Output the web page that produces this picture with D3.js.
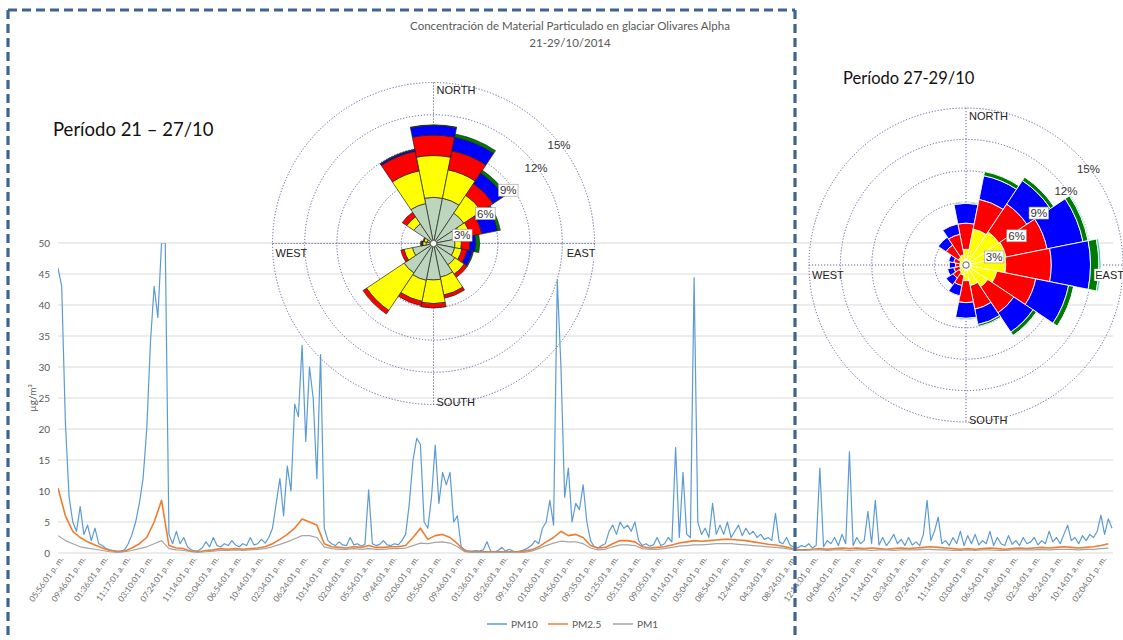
<!DOCTYPE html>
<html><head><meta charset="utf-8">
<script src="https://cdn.jsdelivr.net/npm/d3@7"></script>
<style>body{margin:0;background:#fff}svg{display:block}</style>
</head><body><svg id="c" width="1123" height="640"></svg>
<script>
const tickLabels = ["05:56:01 p. m.","09:46:01 p. m.","01:36:01 a. m.","11:17:01 a. m.","03:10:01 p. m.","07:24:01 p. m.","11:14:01 p. m.","03:04:01 a. m.","06:54:01 a. m.","10:44:01 a. m.","02:34:01 p. m.","06:24:01 p. m.","10:14:01 p. m.","02:04:01 a. m.","05:54:01 a. m.","09:44:01 a. m.","02:06:01 p. m.","05:56:01 p. m.","09:46:01 p. m.","01:36:01 a. m.","05:26:01 a. m.","09:16:01 a. m.","01:06:01 p. m.","04:56:01 p. m.","09:35:01 p. m.","01:25:01 a. m.","05:15:01 a. m.","09:05:01 a. m.","01:14:01 p. m.","05:04:01 p. m.","08:54:01 p. m.","12:44:01 a. m.","04:34:01 a. m.","08:24:01 a. m.","12:14:01 p. m.","04:04:01 p. m.","07:54:01 p. m.","11:44:01 p. m.","03:34:01 a. m.","07:24:01 a. m.","11:14:01 a. m.","03:04:01 p. m.","06:54:01 p. m.","10:44:01 p. m.","02:34:01 a. m.","06:24:01 a. m.","10:14:01 a. m.","02:04:01 p. m."];
const pointsPerLabel = 6;
const yTicks = [0,5,10,15,20,25,30,35,40,45,50];

const pm10 = [46,43,21,9,5,3.5,7.5,3,4.5,2,4,1.5,1.2,0.7,0.5,0.4,0.3,0.3,0.5,1.5,
3,5,8,12,20,34,43,38,50,50,3,1.5,3.5,1.5,2.5,1,0.5,0.3,0.4,0.8,
1.8,1,2.5,1.2,1,1.5,1.2,2,1.3,1,1.5,1.2,2.5,1.3,1.5,2.2,1.6,2.5,4,8,
12,6,14,10,24,22,33.5,18,30,25,12,32,4,2,1.5,1.2,1.8,1.3,1.2,2.5,
1.3,1.5,1.1,1.4,10.2,1.5,1.2,1.4,2,1.3,1.2,1.5,1.3,2,3,8,15,18.5,17.5,5,
4,9,17.4,8,13,11,13,5,6,1,0.5,0.3,0.3,0.4,0.3,0.5,1.8,0.3,0.2,0.4,
0.9,0.3,0.6,0.3,0.2,0.3,0.5,0.8,1.2,2,1.5,4,5,8.5,4.5,44,30,9,13.7,5,
8,7,11,5,2,1,0.8,1.2,1.5,3.5,4.5,3,5,4,4.5,3.5,5,2,1.2,1.5,
1.1,1.3,2.5,1.2,1.5,2.5,1.8,17,2.5,13,3,2.5,44.4,5,3,4,2.5,8,3,4.5,
3,5,2.5,3.5,4.5,2.8,4,3,3.5,2.5,3,2.2,2.5,2,6.4,1.8,1.5,2.5,1.2,1,
0.8,1.2,1,1.5,0.8,1.2,13.7,1,2,1.5,2.5,1.2,3,1.5,16.3,1.2,2.5,1.5,2,6.7,
1.5,8.5,1.3,2.5,1.2,2,3,1.5,2.2,1.2,2.5,1.3,1.8,1.2,3,8.5,2,3.5,5.8,1.5,
2,1.2,2.5,1.5,3.5,1.2,2.8,1.5,3,1.3,2,1.5,3.5,1.2,2.5,1.5,1.2,2.8,1.4,2,
1.2,2.5,1.5,1.8,2.5,1.3,2,1.5,3.5,1.8,2.5,1.5,3,4.5,2,2.5,1.5,2.8,2,3,
2.5,3.5,6.1,3,5.5,4];

const pm25 = [10.5,6,3.5,2.5,1.8,1.3,0.8,0.4,0.2,0.3,0.8,1.5,2.5,5,8.5,1.2,0.8,0.7,0.3,0.2,
0.4,0.5,0.7,0.6,0.7,0.6,0.7,0.8,1.0,1.5,2.2,3,4,5.5,5,4.5,1.5,1,0.9,0.8,
1,0.9,1.2,0.9,0.9,1,1,1.2,2.5,4,2.2,2.8,3,2.5,1.5,0.3,0.2,0.2,0.2,0.2,
0.2,0.2,0.2,0.3,0.5,1,1.8,2.5,3.5,2.8,3,2.5,1.2,0.8,0.9,1.5,2,2,1.8,1,
0.8,0.9,1,1.3,1.6,1.8,2,1.9,2,2.1,2.2,2.2,2.1,2,1.8,1.6,1.4,1.3,1.1,0.8,
0.5,0.5,0.6,0.7,0.6,0.7,0.8,0.7,0.8,0.7,0.8,0.7,0.6,0.7,0.8,0.7,0.8,0.9,1,0.9,
0.8,0.7,0.6,0.7,0.6,0.7,0.8,0.7,0.6,0.7,0.8,0.7,0.8,0.9,0.8,0.9,1,0.9,0.8,0.9,
1,1.2,1.5];

const pm1 = [2.8,2,1.5,1,0.8,0.6,0.4,0.2,0.1,0.2,0.4,0.7,1,1.5,2,0.7,0.5,0.4,0.2,0.1,
0.2,0.3,0.4,0.4,0.5,0.4,0.5,0.6,0.7,1,1.4,1.8,2.3,2.8,2.8,2.5,1,0.7,0.6,0.6,
0.7,0.6,0.7,0.6,0.6,0.7,0.7,0.8,1.2,1.6,1.5,1.7,1.8,1.6,1,0.2,0.1,0.1,0.1,0.1,
0.1,0.1,0.1,0.1,0.3,0.7,1.2,1.6,1.9,1.8,1.8,1.5,0.8,0.5,0.6,1,1.3,1.3,1.2,0.7,
0.6,0.6,0.7,0.9,1.1,1.2,1.3,1.3,1.4,1.5,1.5,1.5,1.4,1.3,1.2,1.1,1,0.9,0.8,0.6,
0.4,0.4,0.5,0.5,0.4,0.5,0.5,0.4,0.5,0.5,0.4,0.5,0.5,0.4,0.5,0.5,0.5,0.6,0.6,0.5,
0.5,0.4,0.4,0.5,0.4,0.5,0.5,0.4,0.4,0.5,0.5,0.5,0.5,0.6,0.5,0.6,0.6,0.6,0.5,0.6,
0.6,0.7,0.8];

const directions = ["N","NNE","NE","ENE","E","ESE","SE","SSE","S","SSW","SW","WSW","W","WNW","NW","NNW"];
// Rose 1 (21-27/10): frequency (%) per wind-speed class, per direction
const rose1Class1 = [4.3,4.3,3.4,2.6,2.0,2.0,2.4,3.2,3.4,3.5,3.3,2.0,0.7,0.6,2.2,3.8];
const rose1Class2 = [3.9,2.7,2.0,0.9,0.6,0.7,1.05,1.7,2.2,2.0,4.2,0.8,0.3,0.3,0.8,3.1];
const rose1Class3 = [1.9,1.8,1.3,1.1,0.8,0.5,0.35,0.3,0.4,0.4,0.4,0.3,0.05,0.1,0.5,1.85];
const rose1Class4 = [0.9,1.3,1.2,1.5,0.55,0.5,0,0,0,0,0,0,0.05,0,0,0.15];
const rose1Class5 = [0.05,0.3,0.3,0.25,0.35,0.1,0,0,0,0,0,0,0.1,0,0,0.05];
// Rose 2 (27-29/10)
const rose2Class1 = [0.5,0.5,0.5,0.5,0.5,0.5,0.5,0.5,0.5,0.4,0.4,0.3,0.3,0.3,0.4,0.4];
const rose2Class2 = [1.0,3.0,3.3,3.4,3.3,2.5,2.0,1.5,1.0,0.6,0.4,0.3,0.3,0.3,0.5,0.6];
const rose2Class3 = [2.5,2.9,3.2,4.0,4.35,3.8,3.0,2.3,2.1,1.0,0.7,0.6,0.4,0.6,1.4,2.0];
const rose2Class4 = [1.9,2.3,2.7,3.5,3.75,3.2,2.2,1.5,1.5,1.0,0.8,0.6,0.6,0.5,0.9,1.0];
const rose2Class5 = [0.1,0.4,0.4,0.5,0.8,0.5,0.4,0.2,0.1,0,0,0,0,0,0,0];
const rose2Class6 = [0,0,0.05,0.1,0.2,0.05,0.05,0,0,0,0,0,0,0,0,0];
const ringValues = [3,6,9,12,15];

const svg = d3.select("#c");
const FONT = "Lato, 'Open Sans', sans-serif";

// ---------- line chart ----------
const X0 = 58, X1 = 1113, Y0 = 553, Y1 = 243;
const x10 = d3.scaleLinear().domain([0, pm10.length - 1]).range([X0, 1112]);
const y = d3.scaleLinear().domain([0, 50]).range([Y0, Y1]);

const grid = svg.append("g");
yTicks.forEach(t => {
  grid.append("line").attr("x1", X0).attr("x2", X1).attr("y1", y(t)).attr("y2", y(t))
    .attr("stroke", "#d9d9d9").attr("stroke-width", 1);
  grid.append("text").attr("x", 50).attr("y", y(t)).attr("dy", "0.35em")
    .attr("text-anchor", "end").attr("font-family", FONT).attr("font-size", 10)
    .attr("fill", "#595959").text(t);
});
svg.append("text").attr("transform", "translate(36,398) rotate(-90)")
  .attr("text-anchor", "middle").attr("font-family", FONT).attr("font-size", 10)
  .attr("fill", "#595959").text("µg/m³");

tickLabels.forEach((t, i) => {
  const xx = x10(i * pointsPerLabel);
  svg.append("text").attr("transform", `translate(${xx + 6},${559}) rotate(-55)`)
    .attr("text-anchor", "end").attr("font-family", FONT).attr("font-size", 8.4)
    .attr("fill", "#707070").text(t);
});

svg.append("defs").append("clipPath").attr("id", "plotclip")
  .append("rect").attr("x", X0).attr("y", Y1).attr("width", X1 - X0).attr("height", Y0 - Y1 + 1);

const lineG = svg.append("g").attr("clip-path", "url(#plotclip)");
const line10 = d3.line().x((d, i) => x10(i)).y(d => y(d));
const lineHalf = d3.line().x((d, i) => x10(i * 2)).y(d => y(d));
lineG.append("path").datum(pm10).attr("d", line10).attr("fill", "none")
  .attr("stroke", "#5b9bd5").attr("stroke-width", 1.2).attr("stroke-linejoin", "round");
lineG.append("path").datum(pm25).attr("d", lineHalf).attr("fill", "none")
  .attr("stroke", "#ed7d31").attr("stroke-width", 1.6).attr("stroke-linejoin", "round");
lineG.append("path").datum(pm1).attr("d", lineHalf).attr("fill", "none")
  .attr("stroke", "#a5a5a5").attr("stroke-width", 1.2).attr("stroke-linejoin", "round");

// legend
const legend = [["PM10", "#5b9bd5", 487], ["PM2.5", "#ed7d31", 548], ["PM1", "#a5a5a5", 613]];
legend.forEach(([name, col, lx]) => {
  svg.append("line").attr("x1", lx).attr("x2", lx + 20).attr("y1", 624).attr("y2", 624)
    .attr("stroke", col).attr("stroke-width", 1.5);
  svg.append("text").attr("x", lx + 24).attr("y", 624).attr("dy", "0.35em")
    .attr("font-family", FONT).attr("font-size", 10).attr("fill", "#595959").text(name);
});

// title
svg.append("text").attr("x", 570).attr("y", 30).attr("text-anchor", "middle")
  .attr("font-family", FONT).attr("font-size", 11.5).attr("fill", "#595959")
  .text("Concentración de Material Particulado en glaciar Olivares Alpha");
svg.append("text").attr("x", 570).attr("y", 47).attr("text-anchor", "middle")
  .attr("font-family", FONT).attr("font-size", 11.5).attr("fill", "#595959")
  .text("21-29/10/2014");

svg.append("text").attr("x", 53).attr("y", 136).attr("font-family", FONT)
  .attr("font-size", 18.5).attr("fill", "#111").text("Período 21 – 27/10");
svg.append("text").attr("x", 843).attr("y", 84).attr("font-family", FONT)
  .attr("font-size", 16.5).attr("fill", "#111").text("Período 27-29/10");

// ---------- wind roses ----------
function drawRose(cx, cy, R, classes, colors, sepStroke, sepWidth) {
  const k = R / 15;
  const g = svg.append("g").attr("transform", `translate(${cx},${cy})`);
  const gridCol = "#5f5f9e";
  ringValues.forEach(v => g.append("circle").attr("r", v * k).attr("fill", "none")
    .attr("stroke", gridCol).attr("stroke-width", 1).attr("stroke-dasharray", "1.2,1.8"));
  g.append("line").attr("x1", 0).attr("x2", 0).attr("y1", -R).attr("y2", R)
    .attr("stroke", gridCol).attr("stroke-width", 1).attr("stroke-dasharray", "1.2,1.8");
  g.append("line").attr("x1", -R).attr("x2", R).attr("y1", 0).attr("y2", 0)
    .attr("stroke", gridCol).attr("stroke-width", 1).attr("stroke-dasharray", "1.2,1.8");

  const arc = d3.arc();
  const step = 2 * Math.PI / directions.length;
  directions.forEach((dname, di) => {
    let acc = 0;
    classes.forEach((cls, ci) => {
      const v = cls[di];
      if (v <= 0) return;
      const a0 = acc; acc += v;
      g.append("path").attr("d", arc({innerRadius: a0 * k, outerRadius: acc * k,
          startAngle: di * step - step / 2, endAngle: di * step + step / 2}))
        .attr("fill", colors[ci]).attr("stroke", sepStroke).attr("stroke-width", sepWidth);
    });
  });
  g.append("circle").attr("r", 3.2).attr("fill", "#fff").attr("stroke", "#444").attr("stroke-width", 0.8);

  const labAng = [74, 60, 54.5, 53.5, 52];
  const labFac = [0.93, 0.93, 0.95, 0.99, 0.99];
  ringValues.forEach((v, i) => {
    const a = labAng[i] * Math.PI / 180, r = v * k * labFac[i];
    const lx = Math.sin(a) * r, ly = -Math.cos(a) * r;
    const t = g.append("text").attr("x", lx).attr("y", ly).attr("dy", "0.35em")
      .attr("text-anchor", "middle").attr("font-family", "Arial, 'Liberation Sans', sans-serif")
      .attr("font-size", 11.5).attr("fill", "#333").text(v + "%");
    if (i < 3) {
      const bb = t.node().getBBox();
      g.insert("rect", () => t.node()).attr("x", bb.x - 1.5).attr("y", bb.y).attr("width", bb.width + 3)
        .attr("height", bb.height).attr("fill", "#fff").attr("stroke", "#999").attr("stroke-width", 0.6);
    }
  });
  const lf = "Arial, 'Liberation Sans', sans-serif";
  g.append("text").attr("x", 3).attr("y", -R + 8).attr("dy", "0.35em").attr("font-family", lf)
    .attr("font-size", 11).attr("fill", "#222").text("NORTH");
  g.append("text").attr("x", 3).attr("y", R - 2).attr("dy", "0.35em").attr("font-family", lf)
    .attr("font-size", 11).attr("fill", "#222").text("SOUTH");
  g.append("text").attr("x", -R + 3).attr("y", 10).attr("dy", "0.35em").attr("font-family", lf)
    .attr("font-size", 11).attr("fill", "#222").text("WEST");
  const et = g.append("text").attr("x", R + 1).attr("y", 10).attr("dy", "0.35em").attr("text-anchor", "end")
    .attr("font-family", lf).attr("font-size", 11).attr("fill", "#222").text("EAST");
  const bb = et.node().getBBox();
  g.insert("rect", () => et.node()).attr("x", bb.x - 1).attr("y", bb.y).attr("width", bb.width + 2)
    .attr("height", bb.height).attr("fill", "#fff");
}

drawRose(433.5, 243.5, 161,
  [rose1Class1, rose1Class2, rose1Class3, rose1Class4, rose1Class5],
  ["#bcd5bc", "#ffff00", "#ff0000", "#0000ff", "#007a00"], "#222", 0.7);
drawRose(966, 265, 157,
  [rose2Class1, rose2Class2, rose2Class3, rose2Class4, rose2Class5, rose2Class6],
  ["#bcd5bc", "#ffff00", "#ff0000", "#0000ff", "#007a00", "#40c8b0"], "#fff", 0.9);

// ---------- dashed frame ----------
const frameCol = "#3e6591";
const frame = [[8, 10, 8, 640], [8, 10, 795, 10], [795, 10, 795, 640]];
frame.forEach(([a, b, c, d]) => svg.append("line").attr("x1", a).attr("y1", b).attr("x2", c).attr("y2", d)
  .attr("stroke", frameCol).attr("stroke-width", 3.2).attr("stroke-dasharray", "9,5"));
</script></body></html>
